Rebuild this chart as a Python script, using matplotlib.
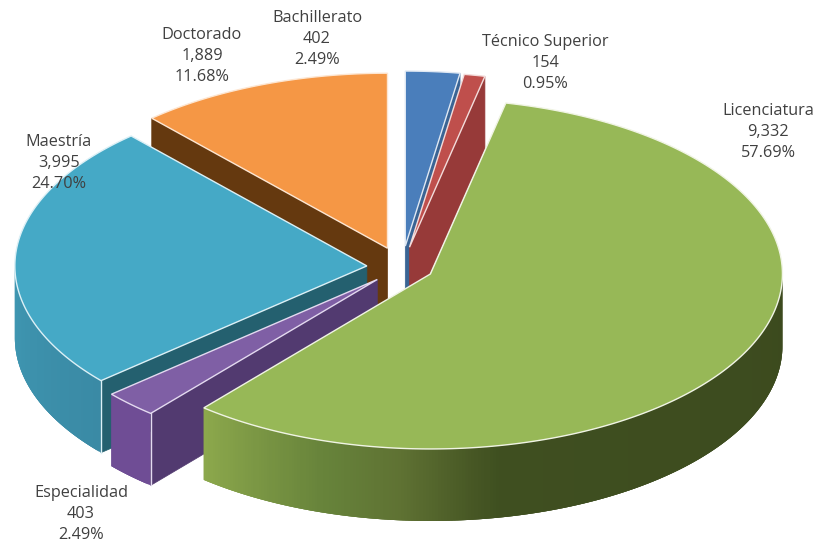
import numpy as np
import matplotlib
matplotlib.use('Agg')
from matplotlib import pyplot as plt
from matplotlib.colors import LinearSegmentedColormap

categories = ['Bachillerato', 'Técnico Superior', 'Licenciatura', 'Especialidad', 'Maestría', 'Doctorado']
values = [402, 154, 9332, 403, 3995, 1889]

# look of the slices
top_colors = ['#4a7ebb', '#bf4f4c', '#97b857', '#7f5fa5', '#45a9c6', '#f59745']
wall_colors = ['#3a6494', '#973a39', '#4f6330', '#523a70', '#24606f', '#65390f']
edge_colors = ['#dfe8f3', '#f3dcdb', '#f0f4e4', '#e4daf0', '#dcf0f6', '#fde6d2']
outer_stops = [['#3a6494', '#3a6494'], ['#973a39', '#973a39'],
               ['#3c4a1e', '#3f4f20', '#5f7233', '#66823a', '#8ca84c'],
               ['#6f4d95', '#6f4d95'], ['#3a8aa5', '#3f97b2'], ['#65390f', '#65390f']]
explode = [0.12, 0.115, 0.09, 0.1, 0.1, 0.115]
draw_order = [5, 0, 1, 4, 3, 2]

# label centres in pixels
label_x = [317, 545, 768, 81, 59, 202]
label_y = [39, 63, 132, 514, 163, 56]

cx, cy = 402, 267
rx, ry = 352, 175
depth = 72

total = sum(values)
edges = np.concatenate([[0], np.cumsum(values)]) / total * 360


def rim(ang, ax0, ay0):
    t = np.radians(ang)
    return ax0 + rx * np.sin(t), ay0 - ry * np.cos(t)


fig = plt.figure(figsize=(8.17, 5.46), dpi=100)
ax = fig.add_axes([0, 0, 1, 1])
ax.set_xlim(0, 817)
ax.set_ylim(546, 0)
ax.axis('off')

z = 1
for i in draw_order:
    a0, a1 = edges[i], edges[i + 1]
    mid = np.radians((a0 + a1) / 2)
    px = cx + explode[i] * rx * np.sin(mid)
    py = cy - explode[i] * ry * np.cos(mid)
    angs = np.linspace(a0, a1, max(int(a1 - a0) * 2, 3))
    xs, ys = rim(angs, px, py)

    # outer wall, only the front half of the ellipse shows
    lo, hi = max(a0, 90), min(a1, 270)
    if hi > lo:
        cmap = LinearSegmentedColormap.from_list('w', outer_stops[i])
        if i == 2:
            cmap = LinearSegmentedColormap.from_list('w', list(zip([0, 0.606, 0.73, 0.82, 1], outer_stops[i])))
        front = np.linspace(lo, hi, int((hi - lo) * 2) + 2)
        for b0, b1 in zip(front[:-1], front[1:]):
            # each strip runs on over the next one so no seams show
            arc = np.linspace(b0, min(b1 + (b1 - b0) * 2, hi), 4)
            x0, y0 = rim(arc, px, py)
            c = cmap((b0 - lo) / max(hi - lo, 1)) if i != 2 else cmap((b0 - 90) / 130)
            ax.fill(np.r_[x0, x0[::-1]], np.r_[y0, y0[::-1] + depth], color=c, lw=0, zorder=z)
            z += 1

    # radial walls that face the viewer
    for ang, normal in ((a0, a0 - 90), (a1, a1 + 90)):
        if np.cos(np.radians(normal)) < -1e-6:
            x1, y1 = rim(ang, px, py)
            ax.fill([px, x1, x1, px], [py, y1, y1 + depth, py + depth], color=wall_colors[i], lw=0.5, zorder=z)
            z += 1
            if 90 < ang < 270:
                ax.plot([x1, x1], [y1, y1 + depth], color=edge_colors[i], lw=1.0, zorder=z)
                z += 1

    # top face
    ax.fill(np.r_[px, xs], np.r_[py, ys], facecolor=top_colors[i], edgecolor=edge_colors[i], lw=1.0, zorder=z)
    z += 1

for i in range(len(categories)):
    pct = values[i] / total * 100
    ax.text(label_x[i], label_y[i], f'{categories[i]}\n{values[i]:,}\n{pct:.2f}%', ha='center', va='center',
            fontsize=11.7, family='Open Sans', color='#404040', linespacing=1.4, zorder=z)

fig.savefig('out.png', dpi=100)
